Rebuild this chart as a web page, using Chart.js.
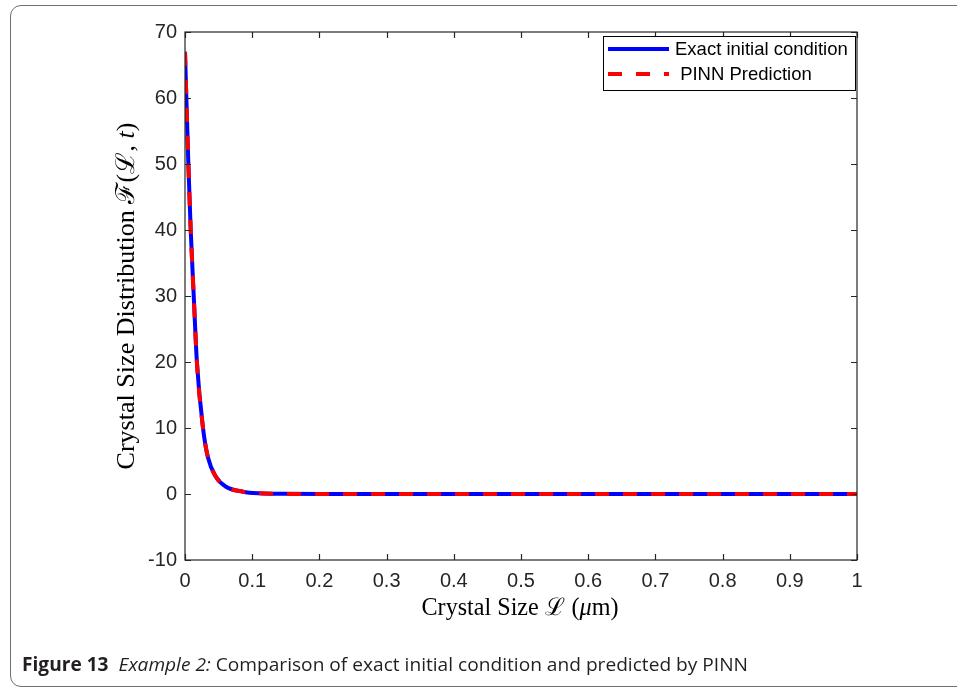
<!DOCTYPE html>
<html>
<head>
<meta charset="utf-8">
<script src="https://cdn.jsdelivr.net/npm/chart.js@4.4.1/dist/chart.umd.min.js"></script>
<style>
  html, body { margin: 0; padding: 0; background: #fff; width: 957px; height: 689px; overflow: hidden; }
  #frame {
    position: absolute; left: 10px; top: 5px; width: 1000px; height: 682px;
    border: 1.5px solid #707070; border-radius: 11px; box-sizing: border-box;
  }
  #wrap { position: absolute; left: 0; top: 0; width: 957px; height: 689px; }
  #caption {
    position: absolute; left: 22px; top: 651px; white-space: nowrap;
    font-family: "Open Sans", sans-serif; font-size: 19px; color: #231f20;
    transform-origin: 0 0;
  }
</style>
</head>
<body>
<div id="frame"></div>
<div id="wrap"><canvas id="chart" width="957" height="689"></canvas></div>
<div id="caption"><b>Figure 13</b>&nbsp; <i>Example 2:</i> Comparison of exact initial condition and predicted by PINN</div>

<script>
/* ── Data ── */
const CRYSTAL_SIZE = [0, 0.002, 0.005, 0.0085, 0.013, 0.0177, 0.0268, 0.034, 0.046, 0.061,
                      0.086, 0.11, 0.15, 0.2, 0.3, 0.4, 0.5, 0.6, 0.7, 0.8, 0.9, 1];
const EXACT_F      = [67, 60, 50, 40, 30, 20, 10, 5.6, 2.6, 1.1,
                      0.35, 0.1, 0.02, 0, 0, 0, 0, 0, 0, 0, 0, 0];
const PINN_F       = [67, 60, 50, 40, 30, 20, 10, 5.6, 2.6, 1.1,
                      0.35, 0.1, 0.02, 0, 0, 0, 0, 0, 0, 0, 0, 0];

const X_TICKS       = [0, 0.1, 0.2, 0.3, 0.4, 0.5, 0.6, 0.7, 0.8, 0.9, 1];
const X_TICK_LABELS = ["0", "0.1", "0.2", "0.3", "0.4", "0.5", "0.6", "0.7", "0.8", "0.9", "1"];
const Y_TICKS       = [-10, 0, 10, 20, 30, 40, 50, 60, 70];
const Y_TICK_LABELS = ["-10", "0", "10", "20", "30", "40", "50", "60", "70"];

const SERIES_LABELS = ["Exact initial condition", " PINN Prediction"];

// ── Style ──
const AXIS_COLOR = "#262626";
const TICK_FONT  = { family: "'Liberation Sans', Arial", size: 20 };
const MATH_FONT  = "'Liberation Serif', 'DejaVu Serif', serif";

const toPoints = ys => CRYSTAL_SIZE.map((x, i) => ({ x, y: ys[i] }));

// draw text made of [text, italic] parts, scaled to a target width, centred at 0,0
function drawRich(ctx, parts, size, targetW) {
  const fontOf = it => `${it ? "italic " : ""}${size}px ${MATH_FONT}`;
  let w = 0;
  parts.forEach(p => { ctx.font = fontOf(p[1]); w += ctx.measureText(p[0]).width; });
  const k = targetW / w;
  ctx.save();
  ctx.scale(k, k);
  let x = -w / 2;
  ctx.textBaseline = "middle";
  ctx.textAlign = "left";
  parts.forEach(p => {
    ctx.font = fontOf(p[1]);
    ctx.fillText(p[0], x, 0);
    x += ctx.measureText(p[0]).width;
  });
  ctx.restore();
}

/* ================================================================
   PLUGIN: MATLAB-style box, inward ticks, axis titles, legend
   ================================================================ */
const matlabDecor = {
  id: "matlabDecor",
  afterDraw(chart) {
    const ctx = chart.ctx;
    const { left, right, top, bottom } = chart.chartArea;
    const xs = chart.scales.x, ys = chart.scales.y;

    ctx.save();
    ctx.strokeStyle = AXIS_COLOR;
    ctx.lineWidth = 1.2;
    ctx.strokeRect(left, top, right - left, bottom - top);

    // inward tick marks, all four sides
    const TL = 6;
    ctx.beginPath();
    X_TICKS.forEach(v => {
      const px = Math.round(xs.getPixelForValue(v)) + 0.5;
      ctx.moveTo(px, bottom); ctx.lineTo(px, bottom - TL);
      ctx.moveTo(px, top);    ctx.lineTo(px, top + TL);
    });
    Y_TICKS.forEach(v => {
      const py = Math.round(ys.getPixelForValue(v)) + 0.5;
      ctx.moveTo(left, py);  ctx.lineTo(left + TL, py);
      ctx.moveTo(right, py); ctx.lineTo(right - TL, py);
    });
    ctx.stroke();

    // axis titles
    ctx.fillStyle = "#000";
    ctx.save();
    ctx.translate(520, 609);
    drawRich(ctx, [["Crystal Size ", false], ["\u2112", false], [" (", false], ["\u03BC", true], ["m)", false]], 21, 197);
    ctx.restore();

    ctx.save();
    ctx.translate(127, 296);
    ctx.rotate(-Math.PI / 2);
    drawRich(ctx, [["Crystal Size Distribution ", false], ["\u2131(\u2112, ", false], ["t", true], [")", false]], 21, 347);
    ctx.restore();

    // legend
    const lx = 603, ly = 36, lw = 252, lh = 54;
    ctx.fillStyle = "#fff";
    ctx.fillRect(lx, ly, lw, lh);
    ctx.strokeStyle = "#000";
    ctx.lineWidth = 1;
    ctx.strokeRect(lx + 0.5, ly + 0.5, lw, lh);

    const rows = [49, 74];
    [0, 1].forEach((di, r) => {
      const ds = chart.data.datasets[di];
      ctx.beginPath();
      ctx.setLineDash(ds.borderDash || []);
      ctx.strokeStyle = ds.borderColor;
      ctx.lineWidth = 4;
      ctx.moveTo(608, rows[r]);
      ctx.lineTo(669, rows[r]);
      ctx.stroke();
      ctx.setLineDash([]);
      ctx.fillStyle = "#000";
      ctx.font = "18.5px 'Liberation Sans', Arial";
      ctx.textBaseline = "middle";
      ctx.textAlign = "left";
      ctx.fillText(ds.label, 675, rows[r] + 1);
    });
    ctx.restore();
  }
};

/* ================================================================
   CHART
   ================================================================ */
new Chart(document.getElementById("chart"), {
  type: "line",
  data: {
    datasets: [
      {
        label: SERIES_LABELS[0],
        data: toPoints(EXACT_F),
        borderColor: "#0000ff",
        borderWidth: 4,
        pointRadius: 0,
        cubicInterpolationMode: "monotone",
        fill: false,
        order: 1
      },
      {
        label: SERIES_LABELS[1],
        data: toPoints(PINN_F),
        borderColor: "#ff0000",
        borderWidth: 4,
        borderDash: [14, 14],
        pointRadius: 0,
        cubicInterpolationMode: "monotone",
        fill: false,
        order: 0
      }
    ]
  },
  options: {
    responsive: false,
    animation: false,
    devicePixelRatio: 1,
    layout: { padding: { left: 0, top: 32, right: 100, bottom: 69 } },
    plugins: { legend: { display: false }, tooltip: { enabled: false } },
    scales: {
      x: {
        type: "linear",
        min: 0, max: 1,
        afterFit: s => { s.height = 60; },
        afterBuildTicks: s => { s.ticks = X_TICKS.map(v => ({ value: v })); },
        grid: { display: false, drawTicks: false, tickLength: 0 },
        border: { display: false },
        ticks: {
          color: AXIS_COLOR, font: TICK_FONT, padding: 9, maxRotation: 0, autoSkip: false,
          callback: (v, i) => X_TICK_LABELS[i]
        }
      },
      y: {
        type: "linear",
        min: -10, max: 70,
        afterFit: s => { s.width = 185; },
        afterBuildTicks: s => { s.ticks = Y_TICKS.map(v => ({ value: v })); },
        grid: { display: false, drawTicks: false, tickLength: 0 },
        border: { display: false },
        ticks: {
          color: AXIS_COLOR, font: TICK_FONT, padding: 8, autoSkip: false,
          callback: (v, i) => Y_TICK_LABELS[i]
        }
      }
    }
  },
  plugins: [matlabDecor]
});

// fit the caption to its width in the figure
const cap = document.getElementById("caption");
cap.style.transform = `scaleX(${726 / cap.getBoundingClientRect().width})`;
</script>
</body>
</html>
